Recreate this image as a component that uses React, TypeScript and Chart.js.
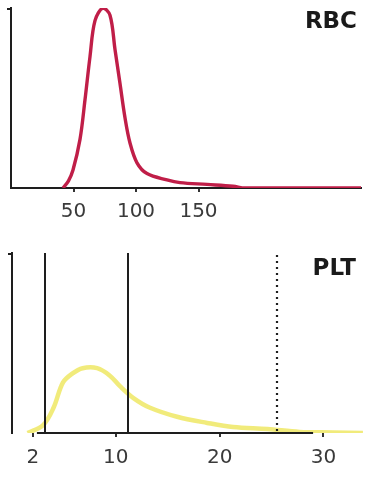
import React, { useEffect, useRef } from 'react';
import { Chart, registerables } from 'chart.js';
Chart.register(...registerables);

// ---- RBC histogram ----
const RBC_TITLE = 'RBC';
const RBC_X = [41.6, 46, 49.6, 55.2, 59.2, 63.2, 67.2, 73.6, 79.2, 83.2, 87.2, 91.2, 95.2, 100.8, 108.8, 124.8, 135.2, 156.8, 177.6, 187.2, 280];
const RBC_Y = [0, 4, 10, 27, 49, 73, 93, 100, 96, 77, 58, 39, 25, 14, 8, 4.5, 3, 2, 1, 0, 0];
const RBC_TICKS = [50, 100, 150];
const RBC_RANGE = [0, 280];

// ---- PLT histogram ----
const PLT_TITLE = 'PLT';
const PLT_X = [1.5, 3.0, 4.0, 4.9, 5.8, 6.8, 8.2, 9.4, 10.4, 11.7, 13.3, 15.9, 18.8, 21.3, 24.6, 27.7, 30.9, 33.8];
const PLT_Y = [0, 4.4, 14, 28, 33, 36, 36, 32, 26, 19.4, 14, 9, 5.6, 3.3, 2.2, 0.6, 0.3, 0];
const PLT_TICKS = [2, 10, 20, 30];
const PLT_RANGE = [0, 34];
const PLT_GATES = [3.2, 11.2];
const PLT_UPPER_LIMIT = 25.5;
const PLT_AXIS_SPAN = [2.4, 29];

const FONT = "'DejaVu Sans', Verdana, sans-serif";
const AXIS_COLOR = '#1e1e1e';

function makeOverlay(title: string, titleSize: number, dx: number, dy: number, extra?: (chart: any) => void) {
  return {
    id: 'overlay_' + title,
    afterDatasetsDraw(chart: any) {
      const { ctx, chartArea } = chart;
      ctx.save();
      // y-axis hook
      ctx.strokeStyle = AXIS_COLOR;
      ctx.lineWidth = 2;
      ctx.beginPath();
      ctx.moveTo(chartArea.left - 4, chartArea.top + 1);
      ctx.lineTo(chartArea.left, chartArea.top + 1);
      ctx.stroke();
      if (extra) extra(chart);
      ctx.fillStyle = '#1a1a1a';
      ctx.font = `bold ${titleSize}px ${FONT}`;
      ctx.textAlign = 'right';
      ctx.textBaseline = 'top';
      ctx.fillText(title, chartArea.right - dx, chartArea.top + dy);
      ctx.restore();
    },
  };
}

function baseOptions(ticks: number[], range: number[], padding: any, axisHeight: number, axisWidth: number, labelPad: number, showXBorder: boolean) {
  return {
    responsive: false,
    animation: false,
    layout: { padding },
    plugins: { legend: { display: false }, tooltip: { enabled: false } },
    scales: {
      x: {
        type: 'linear',
        min: range[0],
        max: range[1],
        afterBuildTicks: (s: any) => {
          s.ticks = ticks.map((v) => ({ value: v }));
        },
        afterFit: (s: any) => {
          s.height = axisHeight;
        },
        ticks: {
          autoSkip: false,
          maxRotation: 0,
          padding: labelPad,
          color: '#3a3a3a',
          font: { size: 20, family: FONT },
          callback: (v: any) => String(v),
        },
        grid: { drawOnChartArea: false, tickLength: 4, color: '#333', lineWidth: 2 },
        border: { display: showXBorder, color: AXIS_COLOR, width: 2 },
      },
      y: {
        min: 0,
        max: 100,
        afterFit: (s: any) => {
          s.width = axisWidth;
        },
        ticks: { display: false },
        grid: { display: false, drawTicks: false },
        border: { display: true, color: AXIS_COLOR, width: 2 },
      },
    },
  };
}

function RbcChart() {
  const ref = useRef<HTMLCanvasElement>(null);
  useEffect(() => {
    const chart = new Chart(ref.current as HTMLCanvasElement, {
      type: 'line',
      data: {
        datasets: [
          {
            data: RBC_X.map((x, i) => ({ x, y: RBC_Y[i] })),
            borderColor: '#c01e48',
            borderWidth: 3.4,
            pointRadius: 0,
            tension: 0.35,
            fill: false,
          },
        ],
      },
      options: baseOptions(RBC_TICKS, RBC_RANGE, { top: 8, right: 22, left: 0, bottom: 0 }, 50, 11, 8, true) as any,
      plugins: [makeOverlay(RBC_TITLE, 23, 4, 3)],
    });
    return () => chart.destroy();
  }, []);
  return <canvas ref={ref} width={383} height={238} style={{ display: 'block' }} />;
}

function PltChart() {
  const ref = useRef<HTMLCanvasElement>(null);
  useEffect(() => {
    const extra = (chart: any) => {
      const { ctx, chartArea, scales } = chart;
      const xs = scales.x;
      const y0 = scales.y.getPixelForValue(0);
      ctx.strokeStyle = AXIS_COLOR;
      ctx.lineWidth = 2;
      // partial x axis
      ctx.beginPath();
      ctx.moveTo(xs.getPixelForValue(PLT_AXIS_SPAN[0]), y0);
      ctx.lineTo(xs.getPixelForValue(PLT_AXIS_SPAN[1]), y0);
      ctx.stroke();
      // discriminator lines
      PLT_GATES.forEach((g) => {
        const px = Math.round(xs.getPixelForValue(g));
        ctx.beginPath();
        ctx.moveTo(px, chartArea.top);
        ctx.lineTo(px, y0);
        ctx.stroke();
      });
      // dotted upper limit
      const ux = Math.round(xs.getPixelForValue(PLT_UPPER_LIMIT));
      ctx.setLineDash([2, 4]);
      ctx.lineWidth = 2.2;
      ctx.beginPath();
      ctx.moveTo(ux, chartArea.top + 2);
      ctx.lineTo(ux, y0);
      ctx.stroke();
      ctx.setLineDash([]);
    };
    const chart = new Chart(ref.current as HTMLCanvasElement, {
      type: 'line',
      data: {
        datasets: [
          {
            data: PLT_X.map((x, i) => ({ x, y: PLT_Y[i] })),
            borderColor: 'rgba(238, 232, 100, 0.85)',
            borderWidth: 4.5,
            pointRadius: 0,
            tension: 0.35,
            fill: false,
          },
        ],
      },
      options: baseOptions(PLT_TICKS, PLT_RANGE, { top: 13, right: 18, left: 0, bottom: 0 }, 44, 12, 9, false) as any,
      plugins: [makeOverlay(PLT_TITLE, 23, 9, 5, extra)],
    });
    return () => chart.destroy();
  }, []);
  return <canvas ref={ref} width={383} height={237} style={{ display: 'block' }} />;
}

export default function App() {
  return (
    <div style={{ position: 'fixed', left: 0, top: 0, width: 383, height: 477, background: '#fff' }}>
      <div style={{ position: 'absolute', left: 0, top: 0 }}>
        <RbcChart />
      </div>
      <div style={{ position: 'absolute', left: 0, top: 240 }}>
        <PltChart />
      </div>
    </div>
  );
}
